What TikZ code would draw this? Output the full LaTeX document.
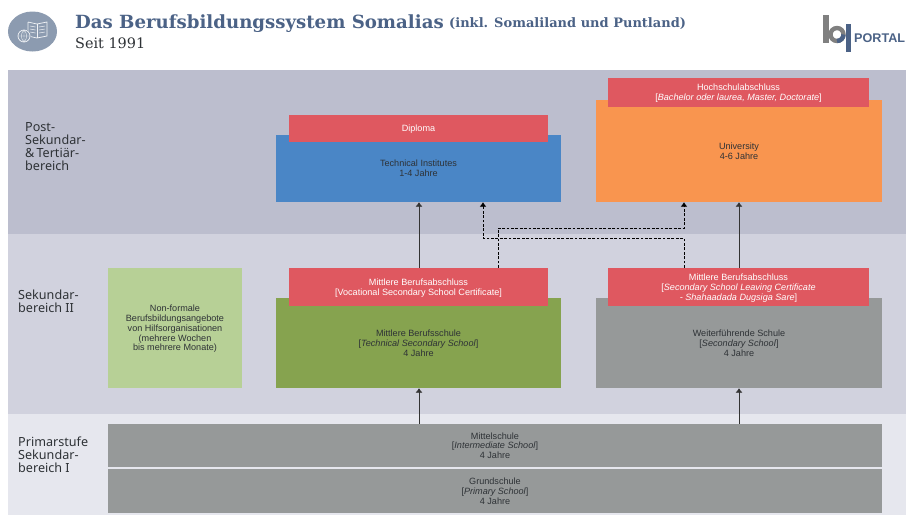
\documentclass[tikz,border=0pt]{standalone}
\usepackage{fontspec}
\setmainfont{Liberation Sans}
\newfontfamily\slab{DejaVu Serif}
\newfontfamily\labelfont{Noto Sans}
\usetikzlibrary{arrows.meta}
\definecolor{bandA}{HTML}{BCBECE}
\definecolor{bandB}{HTML}{D1D2DE}
\definecolor{bandC}{HTML}{E6E7EE}
\definecolor{redbox}{HTML}{DF5860}
\definecolor{bluebox}{HTML}{4A86C6}
\definecolor{orangebox}{HTML}{F9954F}
\definecolor{greenbox}{HTML}{86A34F}
\definecolor{lightgreen}{HTML}{B7D096}
\definecolor{graybox}{HTML}{969999}
\definecolor{titleblue}{HTML}{4B6286}
\definecolor{iconblue}{HTML}{8C9BB0}
\definecolor{logogray}{HTML}{808080}
\definecolor{txt}{HTML}{2E3236}
\tikzset{
  x=1pt,y=-1pt,
  box/.style={draw=none,inner sep=0pt,align=center,text depth=-3pt,font=\fontsize{9.1}{9.7}\selectfont,text=txt},
  redb/.style={box,fill=redbox,text=white},
  band/.style={anchor=north west,inner sep=0pt,draw=none},
  lvl/.style={anchor=north west,inner sep=0pt,align=left,font=\labelfont\fontsize{12.6}{13}\selectfont,text=txt},
  solidarrow/.style={draw=black!80,line width=0.6pt,-{Latex[length=4.5pt,width=7pt]}},
  dasharrow/.style={draw=black,line width=1pt,dash pattern=on 2.8pt off 1.6pt,-{Latex[length=4.5pt,width=7pt]}},
}
\begin{document}
\begin{tikzpicture}
\useasboundingbox (0,0) rectangle (906,515);
% bands
\node[band,fill=bandA,minimum width=898pt,minimum height=164pt] (b1) at (8,70) {};
\node[band,fill=bandB,minimum width=898pt,minimum height=180pt] (b2) at (8,234) {};
\node[band,fill=bandC,minimum width=898pt,minimum height=101pt] (b3) at (8,414) {};
% header icon
\fill[iconblue] (32.5,31.5) ellipse (24.5 and 20);
\begin{scope}[draw=white!88!iconblue,line width=0.7pt]
  \draw (28,22) -- (28,36) -- (37,38) -- (47,36) -- (47,22) -- (37,24) -- (28,22);
  \draw (37,24) -- (37,38);
  \foreach \yy in {26,29,32}{\draw[line width=0.5pt] (30,\yy) -- (35.5,\yy+1); \draw[line width=0.5pt] (39,\yy+1) -- (45,\yy);}
  \fill[iconblue] (24,36) circle (6.8);
  \draw (24,36) circle (6);
  \draw[line width=0.4pt] (18,36) -- (30,36) (24,30) -- (24,42) (24,30) .. controls (20.5,33) and (20.5,39) .. (24,42) (24,30) .. controls (27.5,33) and (27.5,39) .. (24,42);
\end{scope}
% titles
\node[anchor=base west,inner sep=0pt,text=titleblue,font=\slab\bfseries\fontsize{18.15}{20}\selectfont] (title) at (75,28) {Das Berufsbildungssystem Somalias};
\node[anchor=base west,inner sep=0pt,text=titleblue,font=\slab\bfseries\fontsize{13}{14}\selectfont] (subt) at (449,27) {(inkl. Somaliland und Puntland)};
\node[anchor=base west,inner sep=0pt,text=txt,font=\slab\fontsize{14.4}{16}\selectfont] (seit) at (75,48) {Seit 1991};
% logo
\fill[logogray] (823,15) rectangle (829,42.5);
\draw[logogray,line width=4.4pt] (837,34.5) circle (6.5);
\draw[titleblue,line width=4.4pt] (843.5,34.5) arc (0:90:6.5);
\fill[titleblue] (846,24) rectangle (851,52);
\node[anchor=base west,inner sep=0pt,text=titleblue,font=\bfseries\fontsize{12.6}{14}\selectfont] (portal) at (854,42.3) {PORTAL};
% level labels
\node[lvl] (l1) at (25,122) {Post-\\Sekundar-\\\&\,Tertiär-\\bereich};
\node[lvl] (l2) at (18,290) {Sekundar-\\bereich II};
\node[lvl] (l3) at (18,437) {Primarstufe\\Sekundar-\\bereich I};
% boxes
\node[box,fill=bluebox,minimum width=285pt,minimum height=67pt] (tech) at (418.5,168.5) {Technical Institutes\\1-4 Jahre};
\node[redb,minimum width=259pt,minimum height=27pt] (dipl) at (418.5,128.5) {Diploma};
\node[box,fill=orangebox,minimum width=286pt,minimum height=102pt] (uni) at (739,151) {University\\4-6 Jahre};
\node[redb,minimum width=261pt,minimum height=29pt] (hoch) at (738.5,92.5) {Hochschulabschluss\\{}[\textit{Bachelor oder laurea, Master, Doctorate}]};
\node[box,fill=lightgreen,minimum width=134pt,minimum height=120pt] (nonf) at (175,328) {Non-formale\\Berufsbildungsangebote\\von Hilfsorganisationen\\(mehrere Wochen\\bis mehrere Monate)};
\node[box,fill=greenbox,minimum width=285pt,minimum height=90pt] (voc) at (418.5,343) {Mittlere Berufsschule\\{}[\textit{Technical Secondary School}]\\4 Jahre};
\node[redb,minimum width=259pt,minimum height=38pt] (vocr) at (418.5,287) {Mittlere Berufsabschluss\\{}[Vocational Secondary School Certificate]};
\node[box,fill=graybox,minimum width=286pt,minimum height=90pt] (sec) at (739,343) {Weiterführende Schule\\{}[\textit{Secondary School}]\\4 Jahre};
\node[redb,minimum width=261pt,minimum height=38pt] (secr) at (738.5,287) {Mittlere Berufsabschluss\\{}[\textit{Secondary School Leaving Certificate}\\\textit{- Shahaadada Dugsiga Sare}]};
\node[box,fill=graybox,minimum width=774pt,minimum height=43pt] (mid) at (495,445.5) {Mittelschule\\{}[\textit{Intermediate School}]\\4 Jahre};
\node[box,fill=graybox,minimum width=774pt,minimum height=44pt] (prim) at (495,491) {Grundschule\\{}[\textit{Primary School}]\\4 Jahre};
% helper coordinates
\coordinate (xa) at (419,0);
\coordinate (xb) at (739,0);
\coordinate (xc) at (498,228);
\coordinate (xd) at (684,228);
\coordinate (xe) at (684,238);
\coordinate (xf) at (483,238);
% connectors
\draw[solidarrow] (vocr.north -| xa) -- (tech.south -| xa);
\draw[solidarrow] (secr.north -| xb) -- (uni.south -| xb);
\draw[solidarrow] (mid.north -| xa) -- (voc.south -| xa);
\draw[solidarrow] (mid.north -| xb) -- (sec.south -| xb);
\draw[dasharrow] (vocr.north -| xc) -- (xc) -- (xd) -- (uni.south -| xd);
\draw[dasharrow] (secr.north -| xe) -- (xe) -- (xf) -- (tech.south -| xf);
\end{tikzpicture}
\end{document}
